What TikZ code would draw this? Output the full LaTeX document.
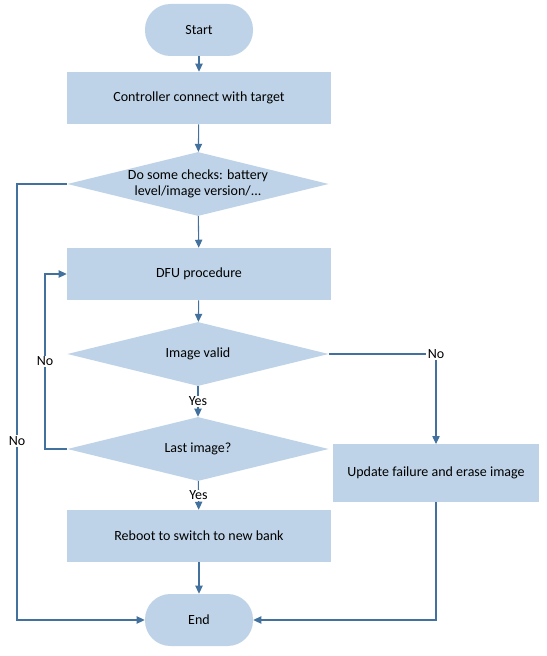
\documentclass[tikz,border=0pt]{standalone}
\usepackage{fontspec}
\setmainfont{Carlito}
\usetikzlibrary{shapes.geometric,arrows.meta}
\definecolor{boxfill}{RGB}{190,211,231}
\definecolor{flowline}{RGB}{65,113,156}
\tikzset{
  terminal/.style={fill=boxfill, rounded corners=19pt, minimum width=81pt, minimum height=39pt, font=\fontsize{10.5}{12.5}\selectfont},
  process/.style={fill=boxfill, minimum width=198pt, minimum height=39pt, font=\fontsize{10.5}{12.5}\selectfont},
  decision/.style={fill=boxfill, diamond, aspect=4.1, inner sep=-2pt, minimum width=196pt, minimum height=48pt, align=center, font=\fontsize{10.5}{12.5}\selectfont},
  flow/.style={draw=flowline, line width=0.8pt, -{Triangle[length=6pt,width=5.5pt]}},
  lbl/.style={fill=white, inner sep=1pt, font=\fontsize{10.5}{12.5}\selectfont}
}
\begin{document}
\begin{tikzpicture}[x=0.75pt, y=-0.75pt]
\useasboundingbox (0,0) rectangle (546,656);
%% Nodes
\node[terminal] (start) at (199,30) {Start};
\node[process] (ctrl) at (199,98) {Controller connect with target};
\node[decision, inner sep=-5pt] (chk) at (198,184) {Do some checks: battery\\level/image version/...};
\node[process] (dfu) at (199,274) {DFU procedure};
\node[decision] (valid) at (198,354) {Image valid};
\node[decision] (last) at (198,449) {Last image?};
\node[process] (reboot) at (199,536) {Reboot to switch to new bank};
\node[terminal] (end) at (199,620) {End};
\node[process, minimum width=155pt, minimum height=43pt] (upd) at (436,473) {Update failure and erase image};
%% Turning points
\coordinate (outer) at (17,0);
\coordinate (inner) at (45,0);
%% Main flow
\draw[flow] (start) -- (ctrl);
\draw[flow] (ctrl) -- (chk);
\draw[flow] (chk) -- (dfu);
\draw[flow] (dfu) -- (valid);
\draw[flow] (valid) -- node[lbl]{Yes} (last);
\draw[flow] (last) -- node[lbl]{Yes} (reboot);
\draw[flow] (reboot) -- (end);
%% Side branches
\draw[flow] (chk.west) -- (chk.west -| outer) -- node[lbl, pos=0.59]{No} (end.west -| outer) -- (end.west);
\draw[flow] (last.west) -- (last.west -| inner) -- node[lbl]{No} (dfu.west -| inner) -- (dfu.west);
\draw[flow] (valid.east) -| node[lbl, pos=0.5]{No} (upd.north);
\draw[flow] (upd.south) |- (end.east);
\end{tikzpicture}
\end{document}
